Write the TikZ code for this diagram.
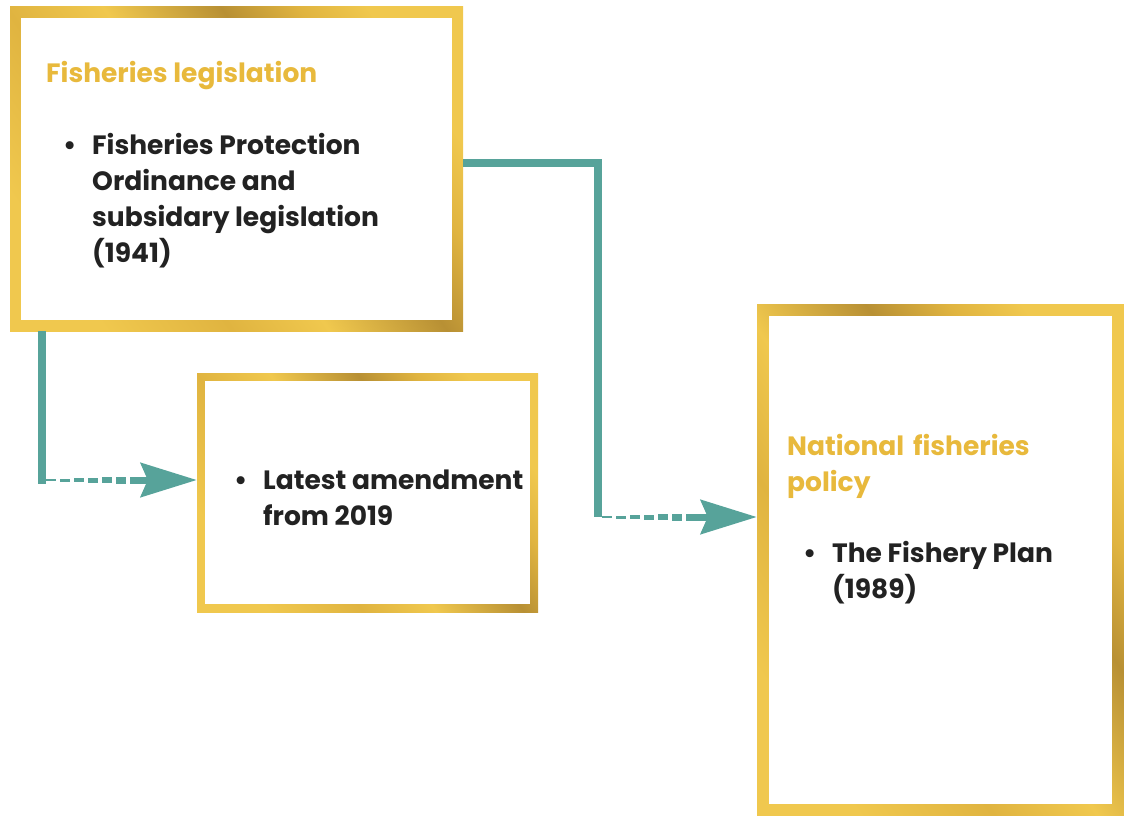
\documentclass[tikz,border=0pt]{standalone}
\usepackage{fontspec}
\setmainfont{Poppins}
\usetikzlibrary{arrows.meta,calc}

\definecolor{foilLight}{RGB}{240,200,78}
\definecolor{foilMid}{RGB}{224,180,64}
\definecolor{foilDark}{RGB}{184,144,52}
\definecolor{headgold}{RGB}{232,185,60}
\definecolor{bodytext}{RGB}{34,34,34}
\definecolor{linkteal}{RGB}{87,163,154}

\pgfdeclarehorizontalshading{goldfoil}{100bp}{color(0bp)=(foilLight); color(25bp)=(foilLight); color(38bp)=(foilMid); color(48bp)=(foilLight); color(60bp)=(foilDark); color(68bp)=(foilMid); color(75bp)=(foilLight); color(100bp)=(foilLight)}

% bullet, then the lines of the entry stacked under each other
\newcommand{\bul}[1]{\makebox[29pt][l]{\textbullet}\begin{tabular}[t]{@{}l@{}}#1\end{tabular}}

\tikzset{
	goldbox/.style={rectangle, inner sep=0pt, path picture={
		\shade[shading=goldfoil, shading angle=35] (path picture bounding box.south west) rectangle (path picture bounding box.north east);
		\fill[white] ([shift={(#1pt,#1pt)}]path picture bounding box.south west) rectangle ([shift={(-#1pt,-#1pt)}]path picture bounding box.north east);
	}},
	heading/.style={inner sep=0pt, anchor=base west, align=left, text=headgold, font=\bfseries\fontsize{26.5}{36}\selectfont},
	item/.style={inner sep=0pt, anchor=base west, text=bodytext, font=\bfseries\fontsize{26.5}{36}\selectfont},
	link/.style={draw=linkteal, line width=8.5pt},
	head/.style={draw=linkteal, line width=7pt, -{Stealth[length=56pt, width=34pt, inset=7pt]}},
}

\begin{document}
\begin{tikzpicture}[x=1pt, y=-1pt]
	\useasboundingbox (0,0) rectangle (1124,816);
	
	% the three frames
	\node[goldbox=11, minimum width=453pt, minimum height=324pt] (fl) at (236.5,169) {};
	\node[goldbox=8, minimum width=341pt, minimum height=239pt] (la) at (367.5,492.5) {};
	\node[goldbox=12, minimum width=367pt, minimum height=512pt] (fp) at (940.5,560) {};
	
	\node[heading] (flhead) at (46,82) {Fisheries legislation};
	\node[item] (flitem) at (63,154) {\bul{Fisheries Protection\\Ordinance and\\subsidary legislation\\(1941)}};
	
	\node[item] (laitem) at (234,489) {\bul{Latest amendment\\from 2019}};
	
	\node[heading, text width=310pt] (fphead) at (787,455) {National fisheries\\policy};
	\node[item] (fpitem) at (803,562) {\bul{The Fishery Plan\\(1989)}};
	
	% connectors: solid leg, growing dashes, then the head
	\coordinate (bend1) at (42,480);
	\coordinate (bend2) at (598,517);
	
	\draw[link] (fl.south -| bend1) -- ([yshift=-4pt]bend1);
	\foreach \i in {0,...,5}
		\draw[draw=linkteal, line width=2pt+\i pt] ($(bend1)+(4+14*\i,0)$) -- ++(10,0);
	\draw[head] ($(bend1)+(88,0)$) -- (la.west |- bend1);
	
	\draw[link] ([yshift=6pt]fl.east) -| (bend2);
	\foreach \i in {0,...,5}
		\draw[draw=linkteal, line width=2pt+\i pt] ($(bend2)+(4+14*\i,0)$) -- ++(10,0);
	\draw[head] ($(bend2)+(88,0)$) -- (fp.west |- bend2);
\end{tikzpicture}
\end{document}
